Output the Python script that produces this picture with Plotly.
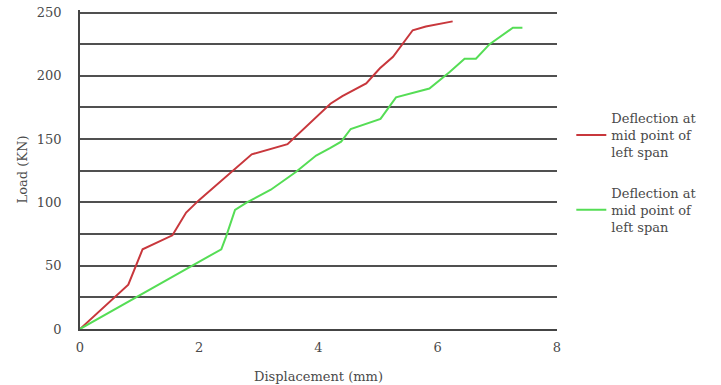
import plotly.graph_objects as go

# Data
red_x = [0, 0.81, 1.05, 1.55, 1.78, 2.0, 2.88, 3.48, 4.2, 4.4, 4.8, 5.03, 5.25, 5.58, 5.8, 6.25]
red_y = [0, 35, 63, 74, 92, 102, 138, 146, 178, 184, 194, 206, 215, 236, 239, 243]

green_x = [0, 2.37, 2.45, 2.6, 2.8, 3.2, 3.62, 3.96, 4.2, 4.38, 4.54, 5.04, 5.3, 5.86, 6.2, 6.45, 6.64, 6.87, 7.26, 7.42]
green_y = [0, 63, 73, 94, 100, 110, 124, 137, 143, 148, 158, 166, 183, 190, 203, 213.5, 213.5, 225, 238, 238]

series_names = ["Deflection at<br>mid point of<br>left span", "Deflection at<br>mid point of<br>left span"]
x_ticks = [0, 2, 4, 6, 8]
y_ticks = [0, 50, 100, 150, 200, 250]

FONT = "DejaVu Serif"
TXT = "#4a4a4a"

fig = go.Figure()
fig.add_trace(go.Scatter(x=red_x, y=red_y, mode="lines", name=series_names[0],
                         line=dict(color="#c8373c", width=2), legendgroup="a"))
fig.add_trace(go.Scatter(x=green_x, y=green_y, mode="lines", name=series_names[1],
                         line=dict(color="#55dd55", width=2), legendgroup="b"))

fig.update_layout(
    width=721, height=385,
    margin=dict(l=80, r=164, t=10, b=56),
    paper_bgcolor="white", plot_bgcolor="white",
    font=dict(family=FONT, size=13, color=TXT),
    showlegend=True,
    legend=dict(x=1.03, xanchor="left", y=0.49, yanchor="middle",
                font=dict(family=FONT, size=13, color=TXT),
                tracegroupgap=21, bgcolor="rgba(0,0,0,0)"),
    xaxis=dict(range=[0, 8], tickvals=x_ticks, showgrid=False, zeroline=False,
               showline=True, linecolor="#444444", linewidth=1.5,
               ticks="", ticklabelstandoff=6, automargin=False,
               tickfont=dict(family=FONT, size=13, color=TXT),
               title=dict(text="Displacement (mm)", standoff=18,
                          font=dict(family=FONT, size=13, color=TXT))),
    yaxis=dict(range=[0, 252], tickvals=y_ticks, showgrid=True,
               gridcolor="#505050", gridwidth=1.5, zeroline=False,
               showline=True, linecolor="#444444", linewidth=1.5,
               ticks="", ticklabelstandoff=14, automargin=False,
               tickfont=dict(family=FONT, size=13, color=TXT),
               title=dict(text="Load (KN)", standoff=6,
                          font=dict(family=FONT, size=13, color=TXT))),
)
# minor gridlines at the odd multiples of 25
fig.update_yaxes(minor=dict(dtick=25, showgrid=True, gridcolor="#505050", gridwidth=1.5))

# remove the default 8px page margin so the 721x385 figure fills the window
fig.write_html("out.html",
               config={"displayModeBar": False},
               post_script="document.body.style.margin='0';document.body.style.overflow='hidden';")
